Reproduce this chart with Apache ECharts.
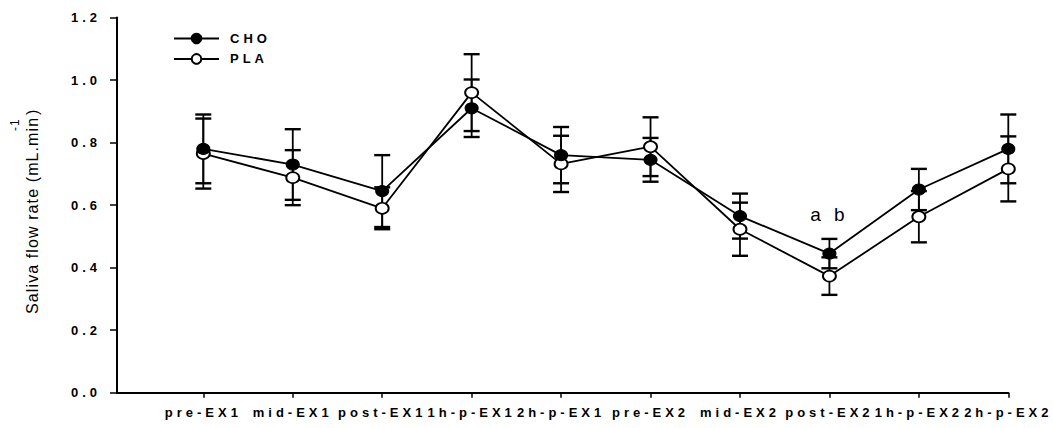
<!DOCTYPE html>
<html>
<head>
<meta charset="utf-8">
<script src="https://cdn.jsdelivr.net/npm/echarts@6/dist/echarts.min.js"></script>
<style>
  html, body { margin: 0; padding: 0; background: #fff; }
  #chart { width: 1053px; height: 428px; }
  /* wide typewriter-style tracking for tick labels, legend and annotation */
  #chart text[style*="Liberation Sans"] { letter-spacing: 4px; }
  /* light tracking for the axis title */
  #chart text[style*="Arial"] { letter-spacing: 1.1px; }
</style>
</head>
<body>
<div id="chart"></div>
<script>
// Sampling time points
const categories = ['pre-EX1', 'mid-EX1', 'post-EX1', '1h-p-EX1', '2h-p-EX1',
                    'pre-EX2', 'mid-EX2', 'post-EX2', '1h-p-EX2', '2h-p-EX2'];

// Saliva flow rate (mL.min-1), mean and SEM
const choMean = [0.78, 0.73, 0.645, 0.91, 0.76, 0.745, 0.565, 0.445, 0.65, 0.78];
const choSem  = [0.11, 0.113, 0.115, 0.092, 0.09, 0.07, 0.072, 0.047, 0.066, 0.11];
const plaMean = [0.765, 0.688, 0.59, 0.96, 0.732, 0.787, 0.523, 0.373, 0.563, 0.716];
const plaSem  = [0.112, 0.088, 0.067, 0.123, 0.09, 0.094, 0.085, 0.06, 0.082, 0.104];

// Significance markers placed above the CHO points
const notes = ['', '', '', '', '', '', '', 'a b', '', ''];

const positions = categories.map((c, i) => i + 1);

const TICK_FONT = 'Liberation Sans';

function errorBars(name, mean, sem) {
  return {
    type: 'custom',
    name: name,
    z: 1,
    silent: true,
    encode: { x: 0, y: [1, 2] },
    data: mean.map((m, i) => [positions[i], m - sem[i], m + sem[i]]),
    renderItem: function (params, api) {
      const x = api.value(0);
      const lo = api.coord([x, api.value(1)]);
      const hi = api.coord([x, api.value(2)]);
      const w = 8;
      const st = { stroke: '#000', lineWidth: 1.8 };
      const cap = { stroke: '#000', lineWidth: 2.4 };
      return {
        type: 'group',
        children: [
          { type: 'line', shape: { x1: lo[0], y1: lo[1], x2: hi[0], y2: hi[1] }, style: st },
          { type: 'line', shape: { x1: lo[0] - w, y1: lo[1], x2: lo[0] + w, y2: lo[1] }, style: cap },
          { type: 'line', shape: { x1: hi[0] - w, y1: hi[1], x2: hi[0] + w, y2: hi[1] }, style: cap }
        ]
      };
    }
  };
}

const chart = echarts.init(document.getElementById('chart'), null, { renderer: 'svg' });

chart.setOption({
  animation: false,
  backgroundColor: '#fff',
  grid: { left: 117, right: 44.7, top: 17.6, bottom: 35.3, containLabel: false },
  legend: {
    data: ['CHO', 'PLA'],
    orient: 'vertical',
    left: 168,
    top: 27,
    itemWidth: 45,
    itemHeight: 12,
    itemGap: 7.4,
    selectedMode: false,
    textStyle: { fontFamily: TICK_FONT, fontSize: 13, fontWeight: 'bold', color: '#000', padding: [0, 0, 0, 6] }
  },
  xAxis: {
    type: 'value',
    min: 0.035,
    max: 10,
    splitLine: { show: false },
    axisLine: { show: true, lineStyle: { color: '#000', width: 2 } },
    axisTick: { show: true, customValues: positions, length: 5, lineStyle: { color: '#000', width: 1.5 } },
    axisLabel: {
      customValues: positions,
      margin: 13,
      fontFamily: TICK_FONT,
      fontSize: 13,
      fontWeight: 'bold',
      color: '#000',
      formatter: function (v) { return categories[Math.round(v) - 1] || ''; }
    }
  },
  yAxis: {
    type: 'value',
    min: 0,
    max: 1.2,
    interval: 0.2,
    splitLine: { show: false },
    axisLine: { show: true, lineStyle: { color: '#000', width: 2 } },
    axisTick: { show: true, length: 7, lineStyle: { color: '#000', width: 1.5 } },
    axisLabel: {
      margin: 16,
      fontFamily: TICK_FONT,
      fontSize: 13,
      fontWeight: 'bold',
      color: '#000',
      formatter: function (v) { return v.toFixed(1); }
    },
    name: '{t|Saliva flow rate (mL.min}{s|-1}{t| )}',
    nameLocation: 'middle',
    nameRotate: 90,
    nameGap: 62,
    nameTextStyle: {
      rich: {
        t: { fontFamily: 'Arial', fontSize: 16, color: '#000' },
        s: { fontFamily: 'Arial', fontSize: 12, color: '#000', padding: [0, 0, 34, 0] }
      }
    }
  },
  series: [
    errorBars('CHO SEM', choMean, choSem),
    errorBars('PLA SEM', plaMean, plaSem),
    {
      type: 'line',
      name: 'PLA',
      z: 3,
      data: plaMean.map((v, i) => [positions[i], v]),
      symbol: 'circle',
      symbolSize: [13, 11],
      showAllSymbol: true,
      lineStyle: { color: '#000', width: 1.8 },
      itemStyle: { color: '#fff', borderColor: '#000', borderWidth: 1.8 }
    },
    {
      type: 'line',
      name: 'CHO',
      z: 4,
      data: choMean.map((v, i) => [positions[i], v]),
      symbol: 'circle',
      symbolSize: [13, 11],
      showAllSymbol: true,
      lineStyle: { color: '#000', width: 1.8 },
      itemStyle: { color: '#000', borderColor: '#000', borderWidth: 1 },
      label: {
        show: true,
        position: 'top',
        distance: 24,
        fontFamily: TICK_FONT,
        fontSize: 19,
        color: '#000',
        formatter: function (p) { return notes[p.dataIndex]; }
      }
    }
  ]
});
</script>
</body>
</html>
